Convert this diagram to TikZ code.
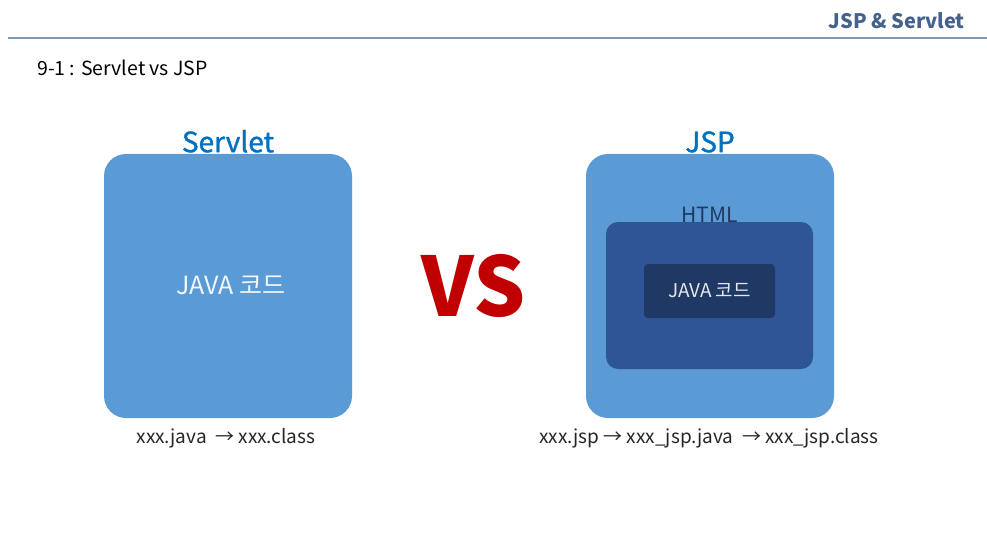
\documentclass[tikz,border=0pt]{standalone}
\usepackage{fontspec}
\setmainfont{Noto Sans CJK KR}
\newfontfamily\semibold[FakeBold=1.2]{Noto Sans CJK KR}
\usepackage{xcolor}
\usepackage{tikz}
\usetikzlibrary{positioning}

\definecolor{headblue}{HTML}{44628C}
\definecolor{ruleblue}{HTML}{7F96B5}
\definecolor{titleblue}{HTML}{0070C0}
\definecolor{boxblue}{HTML}{5B9BD5}
\definecolor{midblue}{HTML}{2F5597}
\definecolor{deepblue}{HTML}{203864}
\definecolor{vsred}{HTML}{C00000}

\begin{document}
\begin{tikzpicture}[
    x=1pt, y=-1pt,
    bigbox/.style={rectangle, fill=boxblue, minimum width=248pt, minimum height=264pt, rounded corners=22pt, inner sep=0pt},
    title/.style={font=\fontsize{28}{30}\semibold, text=titleblue, inner sep=0pt},
    caption/.style={font=\fontsize{19}{21}\selectfont, text=black!85, inner sep=0pt},
    every node/.style={anchor=center}
]
    \useasboundingbox (0,0) rectangle (987,540);

    % Header
    \node[font=\fontsize{20}{22}\selectfont\bfseries, text=headblue, anchor=east, inner sep=0pt] (head) at (965,21) {JSP \& Servlet};
    \coordinate (ruleL) at (8,38);
    \coordinate (ruleR) at (987,38);
    \draw[ruleblue, line width=2pt] (ruleL) -- (ruleR);
    \node[font=\fontsize{19.5}{21}\selectfont, anchor=west, inner sep=0pt] (sub) at (37,68) {9-1 : Servlet vs JSP};

    % Servlet side
    \node[bigbox] (servlet) at (228,286) {};
    \node[font=\fontsize{25}{27}\selectfont, text=white!92!boxblue] (scode) at (231,285) {JAVA 코드};
    \node[title, anchor=south] (stitle) at ([yshift=1pt]servlet.north) {Servlet};
    \node[caption] (scap) at (226,438) {xxx.java~ → xxx.class};

    % VS
    \node[font=\fontsize{82}{84}\selectfont\bfseries, text=vsred, inner sep=0pt] (vs) at (474,286) {VS};

    % JSP side
    \node[bigbox] (jsp) at (710,286) {};
    \node[title, anchor=south] (jtitle) at ([yshift=1pt]jsp.north) {JSP};
    \node[rectangle, fill=midblue, minimum width=207pt, minimum height=147pt, rounded corners=12pt, inner sep=0pt] (html) at (709.5,295.5) {};
    \node[font=\fontsize{21}{23}\selectfont, text=deepblue, anchor=south, inner sep=0pt] (htmllbl) at ([yshift=-1pt]html.north) {HTML};
    \node[rectangle, fill=deepblue, minimum width=131pt, minimum height=54pt, rounded corners=4pt, inner sep=0pt] (jcodebox) at (709.5,291) {};
    \node[font=\fontsize{19}{21}\selectfont, text=white!88!deepblue] (jcode) at (jcodebox.center) {JAVA 코드};
    \node[caption] (jcap) at (709,438) {xxx.jsp → xxx\_jsp.java~ → xxx\_jsp.class};
\end{tikzpicture}
\end{document}
